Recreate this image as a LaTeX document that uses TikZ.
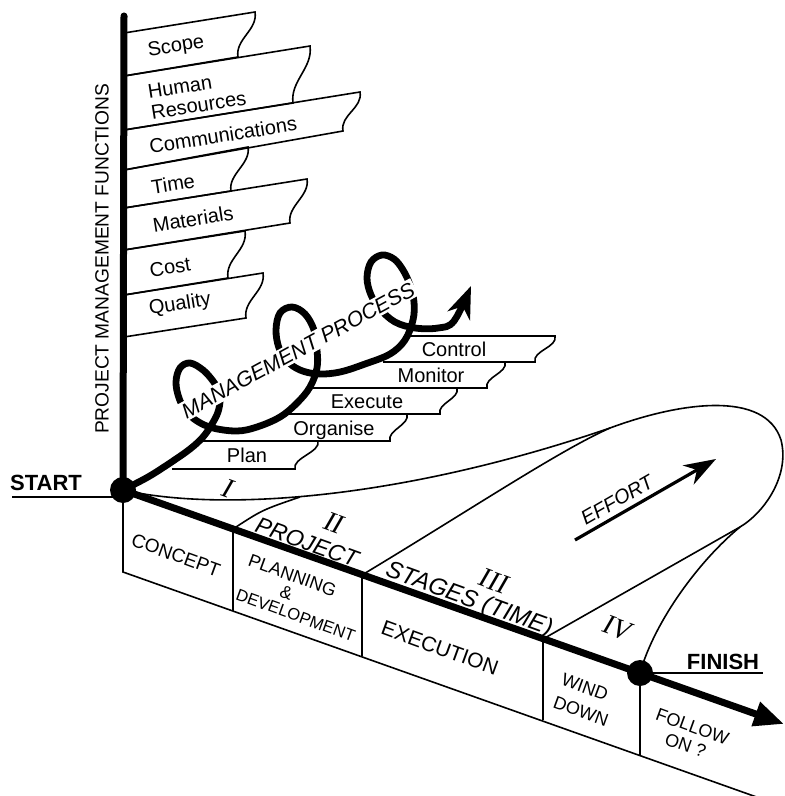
\documentclass[tikz,border=0pt]{standalone}
\usepackage{fontspec}
\setmainfont{Liberation Sans}
\newfontfamily\numeralfont{Liberation Serif}
\usetikzlibrary{arrows.meta}

\begin{document}
\begin{tikzpicture}[x=0.5pt,y=-0.5pt]

\tikzset{dot/.style = {shape=circle,fill,inner sep=0pt,minimum size=13pt}}
\tikzset{axis/.style = {line width=3.5pt}}
\tikzset{ruled/.style = {line width=0.8pt}}
\tikzset{helix/.style = {line width=3.4pt,line cap=round}}
\tikzset{func/.style = {font=\fontsize{10}{10.5}\selectfont,rotate=9,inner sep=0pt}}
\tikzset{proc/.style = {font=\fontsize{10}{11}\selectfont,inner sep=0pt,text height=7.2pt,text depth=0pt}}
\tikzset{face/.style = {font=\fontsize{9.5}{11}\selectfont,rotate=-20,inner sep=0pt}}
\tikzset{stage/.style = {font=\fontsize{11.5}{13}\selectfont\itshape,rotate=-20,inner sep=0pt}}
\tikzset{numeral/.style = {font=\fontsize{14}{15}\selectfont\numeralfont\itshape,rotate=-20,inner sep=0pt}}

\useasboundingbox (0,0) rectangle (785,796);

\coordinate (top) at (124,16);
\coordinate (start) at (123,490);
\coordinate (finish) at (640,673);
\coordinate (tip) at (784,724);
\coordinate (d2) at (233,529);
\coordinate (d3) at (362,575);
\coordinate (d4) at (543,639);
\coordinate (b1) at (123,572);
\coordinate (b2) at (233,611);
\coordinate (b3) at (362,656);
\coordinate (b4) at (543,720);
\coordinate (b5) at (640,755);
\coordinate (bend) at (765,800);
\coordinate (merge) at (610,428);
\coordinate (cusp) at (740,527);
\coordinate (startline) at (12,497);
\coordinate (finishline) at (763,673);
\coordinate (effortA) at (575,540);
\coordinate (effortB) at (716,459);

% management functions
\draw[ruled] (124,33) -- (255,12) .. controls +(3,18) and +(-3,-18) .. (238,57) -- (124,76);
\draw[ruled] (124,76) -- (310,46) .. controls +(3,22) and +(-3,-22) .. (293,103) -- (124,130);
\draw[ruled] (124,130) -- (360,92) .. controls +(3,16) and +(-3,-16) .. (343,131) -- (124,170);
\draw[ruled] (124,170) -- (248,147) .. controls +(3,17) and +(-3,-17) .. (231,191) -- (124,208);
\draw[ruled] (124,208) -- (307,179) .. controls +(3,17) and +(-3,-17) .. (290,223) -- (124,250);
\draw[ruled] (124,250) -- (245,231) .. controls +(3,19) and +(-3,-19) .. (228,278) -- (124,295);
\draw[ruled] (124,295) -- (263,273) .. controls +(3,18) and +(-3,-18) .. (246,318) -- (124,337);

\node[func] (scope) at (176,47) {Scope};
\node[func,align=left] (hr) at (197,95) {Human\\Resources};
\node[func] (comm) at (223,135) {Communications};
\node[func] (time) at (173,184) {Time};
\node[func] (materials) at (193,219) {Materials};
\node[func] (cost) at (170,267) {Cost};
\node[func] (quality) at (180,305) {Quality};

\node[rotate=90,font=\fontsize{9.6}{11}\selectfont,inner sep=0pt] (pmf) at (102,259) {PROJECT MANAGEMENT FUNCTIONS};

% management process steps
\draw[ruled] (202,441) -- (318,441) .. controls +(3,11) and +(-3,-11) .. (295,469) -- (172,469);
\draw[ruled] (285,414) -- (407,414) .. controls +(3,11) and +(-3,-11) .. (390,441) -- (202,441);
\draw[ruled] (313,388) -- (457,388) .. controls +(3,11) and +(-3,-11) .. (440,414) -- (285,414);
\draw[ruled] (383,362) -- (505,362) .. controls +(3,11) and +(-3,-11) .. (487,388) -- (313,388);
\draw[ruled] (410,336) -- (555,336) .. controls +(3,11) and +(-3,-11) .. (535,362) -- (383,362);

\node[proc] (plan) at (247,455) {Plan};
\node[proc] (organise) at (334,428) {Organise};
\node[proc] (execute) at (367,401) {Execute};
\node[proc] (monitor) at (431,375) {Monitor};
\node[proc] (control) at (454,349) {Control};

% effort loop
\draw[ruled] (start) .. controls (220,512) and (400,500) .. (merge)
  .. controls (680,402) and (765,390) .. (781,440)
  .. controls (790,475) and (765,512) .. (cusp) -- (d4);
\draw[ruled] (d2) .. controls (262,510) .. (300,497);
\draw[ruled] (d3) .. controls (470,510) and (560,450) .. (merge);
\draw[ruled] (finish) .. controls (655,620) and (700,560) .. (cusp);

\draw[line width=1.6pt,-{Stealth[length=16pt,width=11pt,inset=5pt]}] (effortA) -- (effortB);
\node[font=\fontsize{10}{11}\selectfont\itshape,rotate=30,inner sep=0pt] (effort) at (617,500) {EFFORT};

% stages box
\draw[ruled] (start) -- (b1) -- (bend);
\draw[ruled] (d2) -- (b2);
\draw[ruled] (d3) -- (b3);
\draw[ruled] (d4) -- (b4);
\draw[ruled] (finish) -- (b5);

\node[face] (concept) at (176,555) {CONCEPT};
\node[face,align=left,font=\fontsize{9}{9}\selectfont] (pd) at (302,598)
  {PLANNING\\\hspace*{20pt}\&\\\fontsize{8.3}{9}\selectfont DEVELOPMENT};
\node[face,font=\fontsize{10.5}{12}\selectfont] (execution) at (440,648) {EXECUTION};
\node[face,align=left,font=\fontsize{9}{12}\selectfont] (wd) at (585,700) {WIND\\DOWN};
\node[face,align=center,font=\fontsize{9}{10}\selectfont] (fo) at (689,736) {FOLLOW\\ON ?};

\node[stage] (project) at (307,542) {PROJECT};
\node[stage,font=\fontsize{12}{13}\selectfont\itshape] (stages) at (469,600) {STAGES (TIME)};
\node[numeral] (n1) at (228,488) {I};
\node[numeral] (n2) at (334,523) {II};
\node[numeral] (n3) at (494,581) {III};
\node[numeral] (n4) at (617,628) {IV};

% axes
\draw[axis,line cap=round] (start) -- (top);
\draw[axis,-{Triangle[length=15pt,width=12pt]}] (start) -- (tip);

% management process helix
\draw[helix,-{Stealth[length=16pt,width=12pt,inset=5pt]}] plot[smooth,tension=0.6] coordinates {
  (start) (148,477) (170,463) (190,449) (203,437) (212,424) (218,412) (220,400)
  (218,390) (213,381) (203,370) (190,363) (180,368) (176,382) (179,398) (186,411)
  (197,421) (213,428) (237,431) (257,427) (280,417) (297,403) (310,387) (317,368)
  (317,350) (314,330) (305,314) (292,307) (280,313) (276,330) (279,348) (287,361)
  (300,370) (318,374) (340,372) (365,364) (390,354) (405,340) (413,320) (414,302)
  (410,285) (403,270) (394,259) (382,255) (371,262) (367,278) (371,295) (380,309)
  (395,322) (415,328) (438,328) (454,321) (471,286)};
\node[fill=white,inner sep=1pt,rotate=28.5,font=\fontsize{10.6}{12}\selectfont\itshape,text height=7.6pt,text depth=0pt] (mp) at (298,350) {MANAGEMENT PROCESS};

% start and finish
\draw[ruled] (startline) -- (start |- startline);
\draw[ruled] (finish) -- (finishline);
\node[font=\fontsize{11}{12}\selectfont\bfseries,inner sep=0pt] (startlbl) at (46,483) {START};
\node[font=\fontsize{11}{12}\selectfont\bfseries,inner sep=0pt] (finishlbl) at (723,662) {FINISH};
\node[dot] (startdot) at (start) {};
\node[dot] (finishdot) at (finish) {};

\end{tikzpicture}
\end{document}
